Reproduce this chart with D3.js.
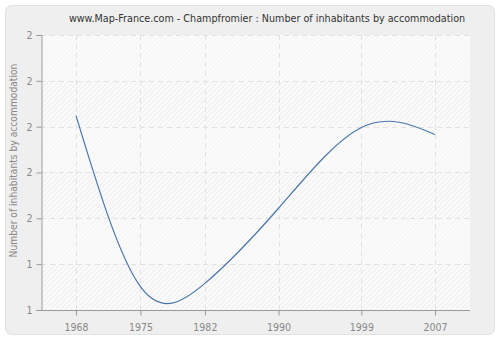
<!DOCTYPE html>
<html>
<head>
<meta charset="utf-8">
<script src="https://cdn.jsdelivr.net/npm/d3@7"></script>
<style>
  body { margin: 0; background: #fff; }
  text { font-family: "DejaVu Sans Condensed", "DejaVu Sans", sans-serif; font-stretch: condensed; }
</style>
</head>
<body>
<script>
//chart data
var years = [1968, 1975, 1982, 1990, 1999, 2007];
var inhabitants = [1.724, 1.351, 1.358, 1.522, 1.698, 1.683];
var yTicks = [1.3, 1.4, 1.5, 1.6, 1.7, 1.8, 1.9];
var title = "www.Map-France.com - Champfromier : Number of inhabitants by accommodation";
var yLabel = "Number of inhabitants by accommodation";

var width = 500,
    height = 340,
    plotLeft = 41,
    plotRight = 470,
    plotTop = 35,
    plotBottom = 310;

var svg = d3.select("body")
    .append("svg")
    .attr("width", width)
    .attr("height", height);

//hatch pattern for the plot background
var defs = svg.append("defs");
var hatch = defs.append("pattern")
    .attr("id", "hatch")
    .attr("patternUnits", "userSpaceOnUse")
    .attr("width", 5)
    .attr("height", 5);
hatch.append("rect")
    .attr("width", 5)
    .attr("height", 5)
    .attr("fill", "#fafafa");
hatch.append("path")
    .attr("d", "M-1,1 l2,-2 M0,5 l5,-5 M4,6 l2,-2")
    .attr("stroke", "#ececec")
    .attr("stroke-width", 1);

//outer panel
svg.append("rect")
    .attr("x", 5.5)
    .attr("y", 5.5)
    .attr("width", 489)
    .attr("height", 329)
    .attr("rx", 6)
    .attr("fill", "#efefef")
    .attr("stroke", "#e2e2e2");

var x = d3.scaleLinear()
    .domain([1964.2, 2010.8])
    .range([plotLeft, plotRight]);

var y = d3.scaleLinear()
    .domain([1.3, 1.9])
    .range([plotBottom, plotTop]);

//plot area
svg.append("rect")
    .attr("x", plotLeft)
    .attr("y", plotTop)
    .attr("width", plotRight - plotLeft)
    .attr("height", plotBottom - plotTop)
    .attr("fill", "url(#hatch)");

//alternate lighter bands
svg.selectAll(".band")
    .data(yTicks.slice(0, -1).filter(function (d, i) { return i % 2 == 1; }))
    .enter()
    .append("rect")
    .attr("class", "band")
    .attr("x", plotLeft)
    .attr("width", plotRight - plotLeft)
    .attr("y", function (d) { return y(d + 0.1); })
    .attr("height", function (d) { return y(d) - y(d + 0.1); })
    .attr("fill", "#fafafa")
    .attr("opacity", 0.6);

//grid lines
svg.selectAll(".hgrid")
    .data(yTicks.slice(1))
    .enter()
    .append("line")
    .attr("class", "hgrid")
    .attr("x1", plotLeft)
    .attr("x2", plotRight)
    .attr("y1", function (d) { return Math.round(y(d)) + 0.5; })
    .attr("y2", function (d) { return Math.round(y(d)) + 0.5; })
    .attr("stroke", "#e2e2e2")
    .attr("stroke-dasharray", "5,4");

svg.selectAll(".vgrid")
    .data(years)
    .enter()
    .append("line")
    .attr("class", "vgrid")
    .attr("x1", function (d) { return Math.round(x(d)) + 0.5; })
    .attr("x2", function (d) { return Math.round(x(d)) + 0.5; })
    .attr("y1", plotTop)
    .attr("y2", plotBottom)
    .attr("stroke", "#e2e2e2")
    .attr("stroke-dasharray", "5,4");

//axes
var xAxis = svg.append("g")
    .attr("transform", "translate(0," + (plotBottom + 0.5) + ")")
    .call(d3.axisBottom(x).tickValues(years).tickFormat(d3.format("d")).tickSizeOuter(0).tickSize(5));

var yAxis = svg.append("g")
    .attr("transform", "translate(" + (plotLeft + 0.5) + ",0)")
    .call(d3.axisLeft(y).tickValues(yTicks).tickFormat(function (d) { return Math.round(d); }).tickSizeOuter(0).tickSize(5));

[xAxis, yAxis].forEach(function (g) {
    g.attr("font-family", null);
    g.select(".domain").attr("stroke", "#999");
    g.selectAll(".tick line").attr("stroke", "#999");
    g.selectAll(".tick text")
        .attr("fill", "#888")
        .style("font-size", "10.5px");
});
xAxis.select(".domain").attr("d", "M" + plotLeft + ",0H" + plotRight);
xAxis.selectAll(".tick text").attr("dy", "1.15em");
yAxis.selectAll(".tick text").attr("x", -9);

//the line
var line = d3.line()
    .x(function (d) { return x(d[0]); })
    .y(function (d) { return y(d[1]); })
    .curve(d3.curveNatural);

svg.append("path")
    .datum(years.map(function (d, i) { return [d, inhabitants[i]]; }))
    .attr("fill", "none")
    .attr("stroke", "#4a77ad")
    .attr("stroke-width", 1.2)
    .attr("d", line);

//title and y label
svg.append("text")
    .attr("x", 267)
    .attr("y", 22)
    .attr("text-anchor", "middle")
    .attr("fill", "#333")
    .style("font-size", "10.7px")
    .text(title);

svg.append("text")
    .attr("transform", "translate(17," + ((plotTop + plotBottom) / 2 - 12) + ") rotate(-90)")
    .attr("text-anchor", "middle")
    .attr("fill", "#888")
    .style("font-size", "10.2px")
    .text(yLabel);
</script>
</body>
</html>
